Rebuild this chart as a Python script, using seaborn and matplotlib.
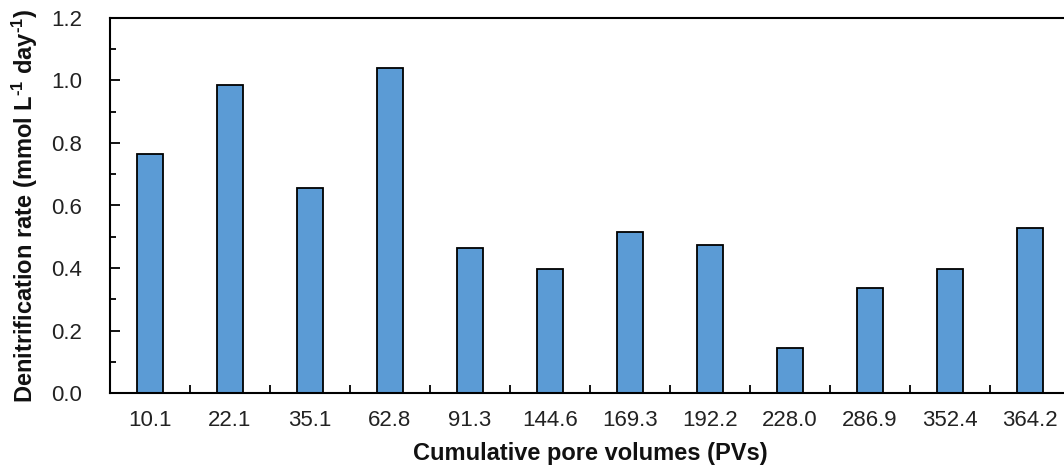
import matplotlib
matplotlib.use("Agg")
import matplotlib.pyplot as plt
import seaborn as sns
import pandas as pd
from matplotlib.ticker import MultipleLocator, FixedLocator, FormatStrFormatter

pv_labels = ["10.1", "22.1", "35.1", "62.8", "91.3", "144.6", "169.3",
             "192.2", "228.0", "286.9", "352.4", "364.2"]
rates = [0.765, 0.986, 0.655, 1.040, 0.463, 0.396, 0.515, 0.473,
         0.145, 0.336, 0.396, 0.527]

df = pd.DataFrame({"pv": pv_labels, "rate": rates})

sns.set_theme(style="white")
plt.rcParams["font.family"] = ["Liberation Sans", "DejaVu Sans"]
plt.rcParams["mathtext.fontset"] = "custom"
plt.rcParams["mathtext.rm"] = "Liberation Sans:bold"
plt.rcParams["mathtext.bf"] = "Liberation Sans:bold"
plt.rcParams["mathtext.it"] = "Liberation Sans:bold"

fig = plt.figure(figsize=(10.64, 4.65), dpi=100)
ax = fig.add_axes([110/1064, 1 - 393/465, 960/1064, 375/465])

sns.barplot(data=df, x="pv", y="rate", order=pv_labels, color="#5B9BD5",
            saturation=1, width=0.325, edgecolor="black", linewidth=1.3, ax=ax)

ax.set_ylim(0, 1.2)
ax.set_xlim(-0.5, len(pv_labels) - 0.5)
ax.yaxis.set_major_locator(MultipleLocator(0.2))
ax.yaxis.set_minor_locator(MultipleLocator(0.1))
ax.yaxis.set_major_formatter(FormatStrFormatter("%.1f"))
ax.xaxis.set_minor_locator(FixedLocator([i + 0.5 for i in range(len(pv_labels) - 1)]))

tick_col = "#222222"
ax.tick_params(axis="y", which="major", direction="in", length=7, width=1.3,
               labelsize=16, pad=20, left=True, color="black", labelcolor=tick_col)
ax.tick_params(axis="y", which="minor", direction="in", length=4.5, width=1.3, left=True,
               color="black")
ax.tick_params(axis="x", which="major", length=0, labelsize=16, pad=12,
               labelcolor=tick_col)
ax.tick_params(axis="x", which="minor", direction="in", length=6, width=1.3, bottom=True,
               color="black")

for side in ["left", "bottom", "top", "right"]:
    ax.spines[side].set_visible(True)
    ax.spines[side].set_color("black")
    ax.spines[side].set_linewidth(1.5)

ax.set_xlabel("Cumulative pore volumes (PVs)", fontsize=17, fontweight="bold",
              labelpad=8, color="#111111")
ax.set_ylabel("Denitrification rate (mmol L$^{\u2010\\mathrm{1}}$ day$^{\u2010\\mathrm{1}}$)",
              fontsize=17, fontweight="bold", labelpad=8, color="#111111")

fig.savefig("out.png", dpi=100)
